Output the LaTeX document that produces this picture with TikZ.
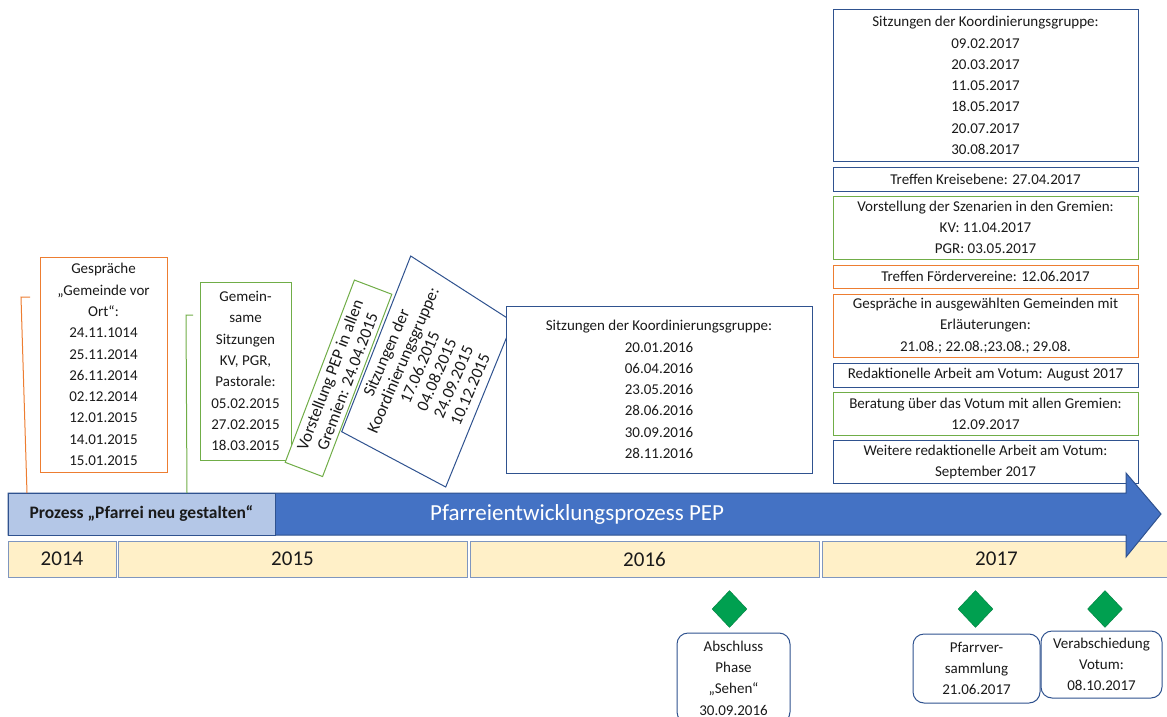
\documentclass[tikz,border=0pt]{standalone}
\usepackage{fontspec}
\setmainfont{Carlito}
\usetikzlibrary{shapes.geometric}
\definecolor{orangeb}{HTML}{ED7D31}
\definecolor{greenb}{HTML}{70AD47}
\definecolor{blueb}{HTML}{2F528F}
\definecolor{arrowblue}{HTML}{4472C4}
\definecolor{lightblue}{HTML}{B4C7E7}
\definecolor{yearfill}{HTML}{FFF0C8}
\definecolor{yearborder}{HTML}{7F96BF}
\definecolor{diamondgreen}{HTML}{00A050}
\definecolor{txt}{HTML}{1A1A1A}
\begin{document}
\begin{tikzpicture}[x=1pt,y=-1pt,
  txtfont/.style={font=\fontsize{15}{21.3}\selectfont},
  infobox/.style={draw, line width=1pt, fill=white, align=center, inner sep=0pt, txtfont, text=txt},
  obox/.style={infobox, draw=orangeb},
  gbox/.style={infobox, draw=greenb},
  bbox/.style={infobox, draw=blueb},
  yearbox/.style={draw=yearborder, line width=1pt, fill=yearfill, inner sep=0pt, font=\fontsize{21}{24}\selectfont, text=txt},
  milestone/.style={diamond, fill=diamondgreen, draw=diamondgreen!80!black, line width=0.4pt, inner sep=0pt, minimum width=35pt, minimum height=37pt},
  msbox/.style={draw=blueb, line width=1pt, rounded corners=11pt, fill=white, align=center, inner sep=0pt, txtfont, text=txt},
  callout/.style={line width=1pt}
]
\useasboundingbox (0,0) rectangle (1167,717);
\clip (0,0) rectangle (1167,717);

% left boxes
\node[obox, minimum width=127pt, minimum height=215pt] (gesp) at (103.5,364.5)
  {Gespräche\\„Gemeinde vor\\Ort“:\\24.11.1014\\25.11.2014\\26.11.2014\\02.12.2014\\12.01.2015\\14.01.2015\\15.01.2015};
\node[gbox, minimum width=91pt, minimum height=178pt] (gemein) at (245.5,371)
  {Gemein-\\same\\Sitzungen\\KV, PGR,\\Pastorale:\\05.02.2015\\27.02.2015\\18.03.2015};

% rotated green box
\node[gbox, rotate=69.2, minimum width=195pt, minimum height=40pt, font=\fontsize{16.8}{18.5}\selectfont] (vorst) at (338.5,378.3)
  {Vorstellung PEP in allen\\Gremien: 24.04.2015};

% skewed blue box (drawn as a quadrilateral)
\coordinate (kq1) at (410.7,256);
\coordinate (kq2) at (513,321.7);
\coordinate (kq3) at (445.7,487);
\coordinate (kq4) at (341.7,431.7);
\draw[blueb, line width=1pt, fill=white] (kq1) -- (kq2) -- (kq3) -- (kq4) -- cycle;
\node[rotate=66.5, align=center, inner sep=0pt, font=\fontsize{16.8}{18.3}\selectfont, text=txt] (koord15) at (428,371)
  {Sitzungen der\\Koordinierungsgruppe:\\17.06.2015\\04.08.2015\\24.09.2015\\10.12.2015};

% middle box
\node[bbox, minimum width=306pt, minimum height=167pt] (koord16) at (659,389.5)
  {Sitzungen der Koordinierungsgruppe:\\20.01.2016\\06.04.2016\\23.05.2016\\28.06.2016\\30.09.2016\\28.11.2016};

% right column
\node[bbox, minimum width=305pt, minimum height=151pt] (koord17) at (985.5,85.5)
  {Sitzungen der Koordinierungsgruppe:\\09.02.2017\\20.03.2017\\11.05.2017\\18.05.2017\\20.07.2017\\30.08.2017};
\node[bbox, minimum width=305pt, minimum height=24pt] (kreis) at (985.5,179)
  {Treffen Kreisebene: 27.04.2017};
\node[gbox, minimum width=305pt, minimum height=63pt] (szen) at (985.5,227.5)
  {Vorstellung der Szenarien in den Gremien:\\KV: 11.04.2017\\PGR: 03.05.2017};
\node[obox, minimum width=305pt, minimum height=23pt] (foerder) at (985.5,276.5)
  {Treffen Fördervereine: 12.06.2017};
\node[obox, minimum width=305pt, minimum height=63pt] (gemeinden) at (985.5,325.5)
  {Gespräche in ausgewählten Gemeinden mit\\Erläuterungen:\\21.08.; 22.08.;23.08.; 29.08.};
\node[bbox, minimum width=305pt, minimum height=24pt] (redak) at (985.5,375)
  {Redaktionelle Arbeit am Votum: August 2017};
\node[gbox, minimum width=305pt, minimum height=43pt] (berat) at (985.5,413.5)
  {Beratung über das Votum mit allen Gremien:\\12.09.2017};
\node[bbox, minimum width=305pt, minimum height=43pt] (weitere) at (985.5,462)
  {Weitere redaktionelle Arbeit am Votum:\\September 2017};

% year bar
\node[yearbox, minimum width=108pt, minimum height=36pt] (y14) at (62,559) {2014};
\node[yearbox, minimum width=349pt, minimum height=36pt] (y15) at (292.5,559) {2015};
\node[yearbox, minimum width=349pt, minimum height=36pt] (y16) at (644.5,559) {2016};
\node[yearbox, minimum width=349pt, minimum height=36pt] (y17) at (996.5,559) {2017};

% process arrow
\draw[fill=arrowblue, draw=blueb, line width=1pt]
  (8,493) -- (1126,493) -- (1126,473) -- (1161,514) -- (1126,557) -- (1126,535) -- (8,535) -- cycle;
\node[text=white, font=\fontsize{23}{26}\selectfont] (pep) at (577,514) {Pfarreientwicklungsprozess PEP};
\node[draw=blueb, line width=1pt, fill=lightblue, minimum width=267pt, minimum height=42pt, inner sep=0pt,
  font=\bfseries\fontsize{17.5}{20}\selectfont, text=txt] (pneu) at (141.5,514) {Prozess „Pfarrei neu gestalten“};

% callout lines
\coordinate (oc1) at (30,297);
\coordinate (oc2) at (21,297);
\coordinate (oc3) at (27,493);
\draw[callout, draw=orangeb] (oc1) -- (oc2) -- (oc3);
\coordinate (gc1) at (193,315);
\coordinate (gc2) at (186,315);
\coordinate (gc3) at (187,493);
\draw[callout, draw=greenb] (gc1) -- (gc2) -- (gc3);

% milestones
\node[milestone] (d1) at (729.5,609) {};
\node[milestone] (d2) at (975.5,609) {};
\node[milestone] (d3) at (1105,609) {};
\node[msbox, minimum width=113pt, minimum height=90pt] (m1) at (733.5,678)
  {Abschluss\\Phase\\„Sehen“\\30.09.2016};
\node[msbox, minimum width=127pt, minimum height=69pt] (m2) at (976.5,668.5)
  {Pfarrver-\\sammlung\\21.06.2017};
\node[msbox, minimum width=121pt, minimum height=67pt] (m3) at (1101.5,664.5)
  {Verabschiedung\\Votum:\\08.10.2017};
\end{tikzpicture}
\end{document}
